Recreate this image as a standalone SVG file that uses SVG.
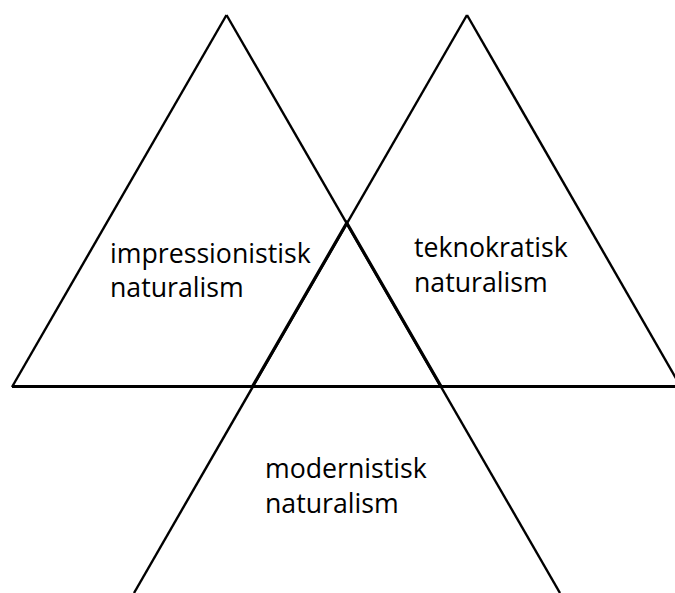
<svg xmlns="http://www.w3.org/2000/svg" width="675" height="593" viewBox="0 0 675 593">
<style>
.ln{stroke:#000;stroke-width:2.4;fill:none;stroke-linecap:butt}
.lbl{font-family:"Open Sans","Noto Sans",sans-serif;font-size:26.7px;fill:#000}
</style>
<rect width="675" height="593" fill="#fff"/>
<g id="connectors">
<line class="ln" x1="226.5" y1="15" x2="12" y2="387"/>
<line class="ln" x1="226.5" y1="15" x2="560" y2="593"/>
<line class="ln" x1="467" y1="15" x2="134" y2="593"/>
<line class="ln" x1="467" y1="15" x2="681" y2="387"/>
<line class="ln" x1="12" y1="386.5" x2="675" y2="386.5" style="stroke-width:3.2"/>
<polygon class="ln" points="346.8,223 441,386.5 252.5,386.5" style="stroke-width:3.2"/>
</g>
<g id="impressionistisk">
<text class="lbl" x="110" y="263">impressionistisk</text>
<text class="lbl" x="110" y="297">naturalism</text>
</g>
<g id="teknokratisk">
<text class="lbl" x="414" y="257">teknokratisk</text>
<text class="lbl" x="414" y="292">naturalism</text>
</g>
<g id="modernistisk">
<text class="lbl" x="265" y="478">modernistisk</text>
<text class="lbl" x="265" y="513">naturalism</text>
</g>
</svg>
